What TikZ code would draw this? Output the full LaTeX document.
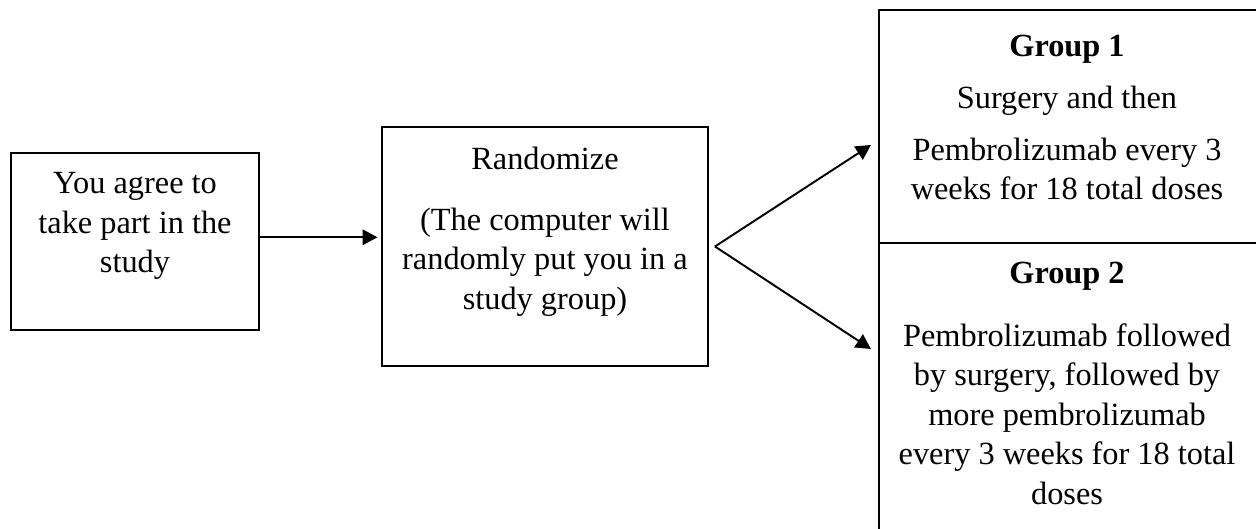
\documentclass[tikz,border=0pt]{standalone}
\usepackage{fontspec}
\setmainfont{Liberation Serif}
\usetikzlibrary{arrows.meta}
\tikzset{
  box/.style={draw, line width=1.1pt, rectangle, inner sep=0pt},
  txt/.style={align=center, inner sep=0pt, font=\fontsize{18.4}{22.5}\selectfont},
  link/.style={line width=1.1pt, -{Triangle[length=0.3cm, width=0.31cm]}}
}
\begin{document}
\begin{tikzpicture}[scale=0.2]
\useasboundingbox (0,0) rectangle (125.6,-52.9);
% boxes
\node [box, minimum width=4.96cm, minimum height=3.54cm] (agree) at (13.5,-24.15) {};
\node [box, minimum width=6.52cm, minimum height=4.78cm] (rand) at (54.5,-24.65) {};
\node [box, minimum width=7.64cm, minimum height=4.66cm] (groupone) at (107,-12.65) {};
\node [box, minimum width=7.64cm, minimum height=6.14cm] (grouptwo) at (107,-39.65) {};
% texts
\node [txt, anchor=north] (agreetxt) at (13.5,-17.2) {You agree to\\take part in the\\study};
\node [txt, anchor=north] (randtxt) at (54.5,-14.7) {Randomize\\[12pt](The computer will\\randomly put you in a\\study group)};
\node [txt, anchor=north] (onetxt) at (106.7,-3.5) {\textbf{Group 1}\\[7pt]Surgery and then\\[7pt]Pembrolizumab every 3\\weeks for 18 total doses};
\node [txt, anchor=north] (twotxt) at (106.7,-26.2) {\textbf{Group 2}\\[13pt]Pembrolizumab followed\\by surgery, followed by\\more pembrolizumab\\every 3 weeks for 18 total\\doses};
% connectors
\path (agree.east) ++(0,0.42) coordinate (agreeout);
\path (rand.east) ++(0.6,0) coordinate (fork);
\path (groupone.south west) ++(-0.7,9.9) coordinate (toone);
\path (grouptwo.north west) ++(-0.7,-10.7) coordinate (totwo);
\draw [link, shorten >=2pt] (agreeout) -- (agreeout -| rand.west);
\draw [link] (fork) -- (toone);
\draw [link] (fork) -- (totwo);
\end{tikzpicture}
\end{document}
